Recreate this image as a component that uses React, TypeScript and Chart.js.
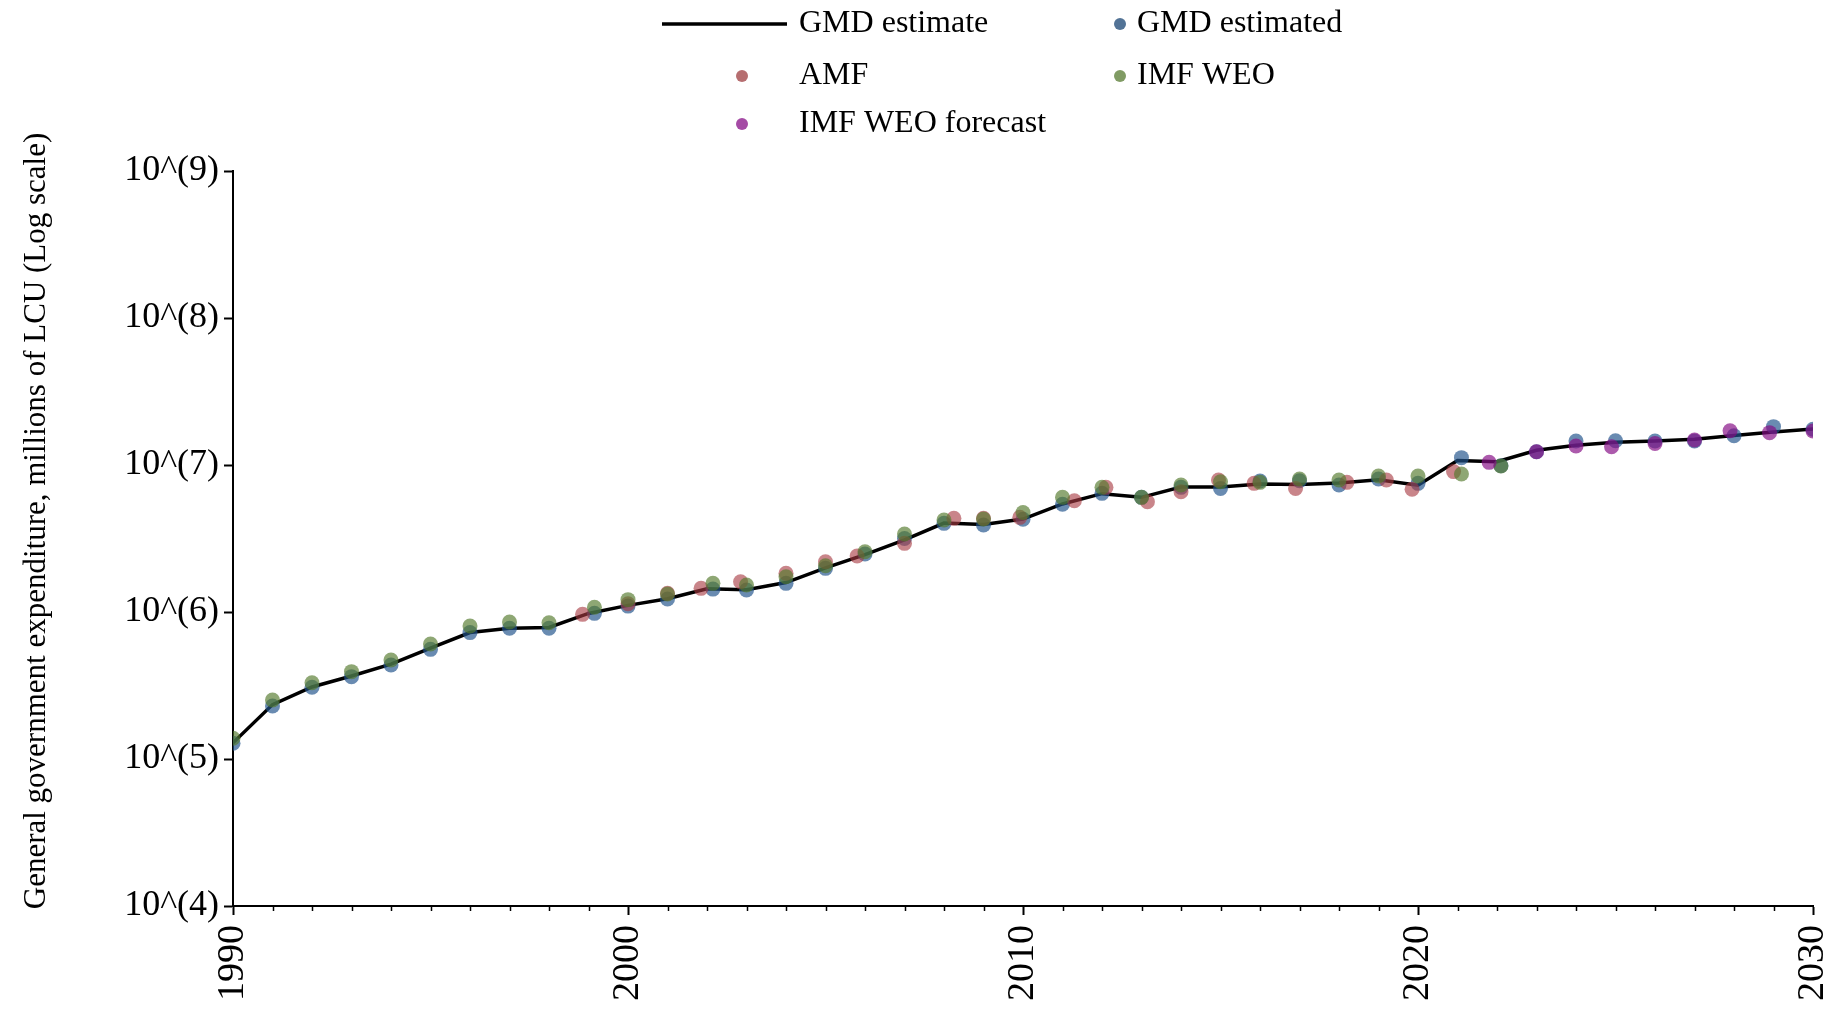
import React, { useEffect, useRef } from "react";
import { Chart, registerables } from "chart.js";

Chart.register(...registerables);

// ---- data (millions of LCU) ----
const lineYears = [
  1990, 1991, 1992, 1993, 1994, 1995, 1996, 1997, 1998, 1999,
  2000, 2001, 2002, 2003, 2004, 2005, 2006, 2007, 2008, 2009,
  2010, 2011, 2012, 2013, 2014, 2015, 2016, 2017, 2018, 2019,
  2020, 2021, 2022, 2023, 2024, 2025, 2026, 2027, 2028, 2029, 2030,
];
const lineValues = [
  128800, 234400, 309000, 367300, 441600, 568900, 724400, 776200, 785300, 977200,
  1109000, 1230000, 1439000, 1419000, 1585000, 1995000, 2455000, 3090000, 4027000, 3936000,
  4286000, 5433000, 6383000, 6026000, 7079000, 7079000, 7413000, 7379000, 7551000, 7943000,
  7278000, 10715000, 10520000, 12589000, 13646000, 14289000, 14554000, 14962000, 15849000, 16788000, 17580000,
];

const gmdYears = [
  1990, 1991, 1992, 1993, 1994, 1995, 1996, 1997, 1998, 1999.15,
  2000, 2001, 2002.15, 2003, 2004, 2005, 2006, 2007, 2008, 2009,
  2010, 2011, 2012, 2013, 2014, 2015, 2016, 2017, 2018, 2019,
  2020, 2021.1, 2022.1, 2023, 2024, 2025, 2026, 2027, 2028, 2029, 2030,
];
const gmdValues = [
  127900, 229600, 307600, 363100, 435500, 557200, 724400, 774500, 774500, 979500,
  1096500, 1224600, 1432100, 1412500, 1566700, 1981600, 2483000, 3162300, 4009000, 3908000,
  4276000, 5407000, 6412000, 6026000, 7047000, 6934000, 7780000, 7816000, 7312000, 8035000,
  7499000, 11220000, 9886000, 12303000, 14554000, 14621000, 14554000, 14554000, 15813000, 18239000, 17499000,
];

const amfYears = [
  1998.85, 2000, 2001, 2001.85, 2002.85, 2004, 2005, 2005.8, 2007, 2008.25,
  2009, 2009.92, 2011.3, 2012.1, 2013.15, 2014, 2014.95, 2015.85, 2016.9, 2018.2,
  2019.2, 2019.85, 2020.9,
];
const amfValues = [
  963800, 1137600, 1339600, 1448700, 1607000, 1832300, 2197900, 2404300, 2930900, 4335000,
  4335000, 4405500, 5714600, 7047000, 5623400, 6576500, 7907000, 7499000, 6934000, 7620700,
  7907000, 6839100, 9015700,
];

const weoYears = [
  1990, 1991, 1992, 1993, 1994, 1995, 1996, 1997, 1998, 1999.15,
  2000, 2001, 2002.15, 2003, 2004, 2005, 2006, 2007, 2008, 2009,
  2010, 2011, 2012, 2013, 2014, 2015, 2016, 2017, 2018, 2019,
  2020, 2021.1, 2022.1,
];
const weoValues = [
  138400, 251800, 330400, 392700, 471000, 605300, 803500, 855100, 845300, 1076500,
  1213400, 1324300, 1566700, 1527600, 1737800, 2065400, 2570400, 3396300, 4226700, 4295200,
  4753400, 6025600, 7047000, 6025600, 7312000, 7691400, 7620700, 8035000, 7907000, 8414300,
  8414300, 8690000, 9840000,
];

const fcYears = [2021.8, 2023, 2024, 2024.9, 2026, 2027, 2027.9, 2028.9, 2030];
const fcValues = [10423000, 12303000, 13458000, 13304000, 14028000, 14791000, 17100000, 16596000, 17022000];

const seriesNames = ["GMD estimate", "GMD estimated", "AMF", "IMF WEO", "IMF WEO forecast"];
const xTickValues = [1990, 2000, 2010, 2020, 2030];
const yTickValues = [1e4, 1e5, 1e6, 1e7, 1e8, 1e9];
const yTickLabels = ["10^(4)", "10^(5)", "10^(6)", "10^(7)", "10^(8)", "10^(9)"];
const yAxisTitle = "General government expenditure, millions of LCU (Log scale)";

// ---- styles ----
const FONT = "'Liberation Serif', 'Times New Roman', serif";
const COLORS = {
  line: "#000000",
  gmd: "rgba(34,84,140,0.68)",
  amf: "rgba(168,58,66,0.62)",
  weo: "rgba(84,122,44,0.66)",
  fc: "rgba(132,12,132,0.68)",
};
const LEGEND_COLORS = {
  gmd: "rgb(82,115,150)",
  amf: "rgb(182,110,112)",
  weo: "rgb(128,155,100)",
  fc: "rgb(165,75,165)",
};

const toPoints = (xs: number[], ys: number[]) => xs.map((x, i) => ({ x, y: ys[i] }));

const decorPlugin = {
  id: "decor",
  afterDraw(chart: any) {
    const ctx = chart.ctx;
    const xs = chart.scales.x;
    ctx.save();
    // minor ticks on the x axis, one per year
    ctx.strokeStyle = "#000";
    ctx.lineWidth = 1.5;
    for (let yr = Math.ceil(xs.min); yr <= xs.max; yr++) {
      if (xTickValues.includes(yr)) continue;
      const px = Math.round(xs.getPixelForValue(yr)) + 0.5;
      ctx.beginPath();
      ctx.moveTo(px, xs.top);
      ctx.lineTo(px, xs.top + 5);
      ctx.stroke();
    }

    // y axis title
    ctx.save();
    ctx.translate(37, 521);
    ctx.rotate(-Math.PI / 2);
    ctx.font = `31px ${FONT}`;
    ctx.fillStyle = "#000";
    ctx.textAlign = "center";
    ctx.textBaseline = "middle";
    ctx.fillText(yAxisTitle, 0, 0);
    ctx.restore();

    // legend
    ctx.font = `32px ${FONT}`;
    ctx.fillStyle = "#000";
    ctx.textAlign = "left";
    ctx.textBaseline = "middle";
    const rows = [24, 76, 124];
    ctx.strokeStyle = "#000";
    ctx.lineWidth = 3.5;
    ctx.beginPath();
    ctx.moveTo(662, rows[0]);
    ctx.lineTo(787, rows[0]);
    ctx.stroke();
    ctx.fillText(seriesNames[0], 799, rows[0]);
    const marker = (x: number, y: number, c: string) => {
      ctx.beginPath();
      ctx.arc(x, y, 6, 0, Math.PI * 2);
      ctx.fillStyle = c;
      ctx.fill();
      ctx.fillStyle = "#000";
    };
    marker(1120, rows[0], LEGEND_COLORS.gmd);
    ctx.fillText(seriesNames[1], 1137, rows[0]);
    marker(742, rows[1], LEGEND_COLORS.amf);
    ctx.fillText(seriesNames[2], 799, rows[1]);
    marker(1120, rows[1], LEGEND_COLORS.weo);
    ctx.fillText(seriesNames[3], 1137, rows[1]);
    marker(742, rows[2], LEGEND_COLORS.fc);
    ctx.fillText(seriesNames[4], 799, rows[2]);
    ctx.restore();
  },
};

export default function App() {
  const ref = useRef<HTMLCanvasElement | null>(null);

  useEffect(() => {
    if (!ref.current) return;
    const pointStyle = (color: string) => ({
      backgroundColor: color,
      borderColor: color,
      borderWidth: 0,
      pointRadius: 7.5,
      pointHoverRadius: 7.5,
      showLine: false,
    });
    const chart = new Chart(ref.current, {
      type: "scatter",
      data: {
        datasets: [
          {
            label: seriesNames[0],
            data: toPoints(lineYears, lineValues),
            showLine: true,
            borderColor: COLORS.line,
            borderWidth: 3.5,
            pointRadius: 0,
            pointHoverRadius: 0,
            order: 5,
          } as any,
          { label: seriesNames[1], data: toPoints(gmdYears, gmdValues), ...pointStyle(COLORS.gmd), order: 4 },
          { label: seriesNames[2], data: toPoints(amfYears, amfValues), ...pointStyle(COLORS.amf), order: 3 },
          { label: seriesNames[3], data: toPoints(weoYears, weoValues), ...pointStyle(COLORS.weo), order: 2 },
          { label: seriesNames[4], data: toPoints(fcYears, fcValues), ...pointStyle(COLORS.fc), order: 1 },
        ],
      },
      options: {
        responsive: false,
        animation: false,
        events: [],
        layout: { padding: { top: 171, right: 24, left: 0, bottom: 0 } },
        plugins: {
          legend: { display: false },
          tooltip: { enabled: false },
          title: { display: false },
        },
        scales: {
          x: {
            type: "linear",
            min: 1990,
            max: 2030,
            afterBuildTicks: (s: any) => {
              s.ticks = xTickValues.map((v) => ({ value: v }));
            },
            afterFit: (s: any) => {
              s.height = 107;
              s.paddingLeft = 0;
              s.paddingRight = 0;
            },
            ticks: {
              callback: (v: any) => String(v),
              minRotation: 90,
              maxRotation: 90,
              padding: 10,
              color: "#000",
              font: { family: FONT, size: 38 },
            },
            grid: {
              drawOnChartArea: false,
              drawTicks: true,
              tickLength: 9,
              tickWidth: 2,
              tickColor: "#000",
            },
            border: { display: true, color: "#000", width: 2 },
          },
          y: {
            type: "logarithmic",
            min: 1e4,
            max: 1e9,
            afterBuildTicks: (s: any) => {
              s.ticks = yTickValues.map((v) => ({ value: v }));
            },
            afterFit: (s: any) => {
              s.width = 233;
              s.paddingTop = 0;
              s.paddingBottom = 0;
            },
            ticks: {
              callback: (v: any) => {
                const i = yTickValues.indexOf(Number(v));
                return i >= 0 ? yTickLabels[i] : "";
              },
              padding: 5,
              color: "#000",
              font: { family: FONT, size: 36 },
            },
            grid: {
              drawOnChartArea: false,
              drawTicks: true,
              tickLength: 9,
              tickWidth: 2,
              tickColor: "#000",
            },
            border: { display: true, color: "#000", width: 2 },
          },
        },
      },
      plugins: [decorPlugin],
    });
    return () => chart.destroy();
  }, []);

  return (
    <div style={{ position: "fixed", left: 0, top: 0, width: 1837, height: 1013, background: "#fff" }}>
      <canvas ref={ref} width={1837} height={1013} style={{ display: "block", width: 1837, height: 1013 }} />
    </div>
  );
}
